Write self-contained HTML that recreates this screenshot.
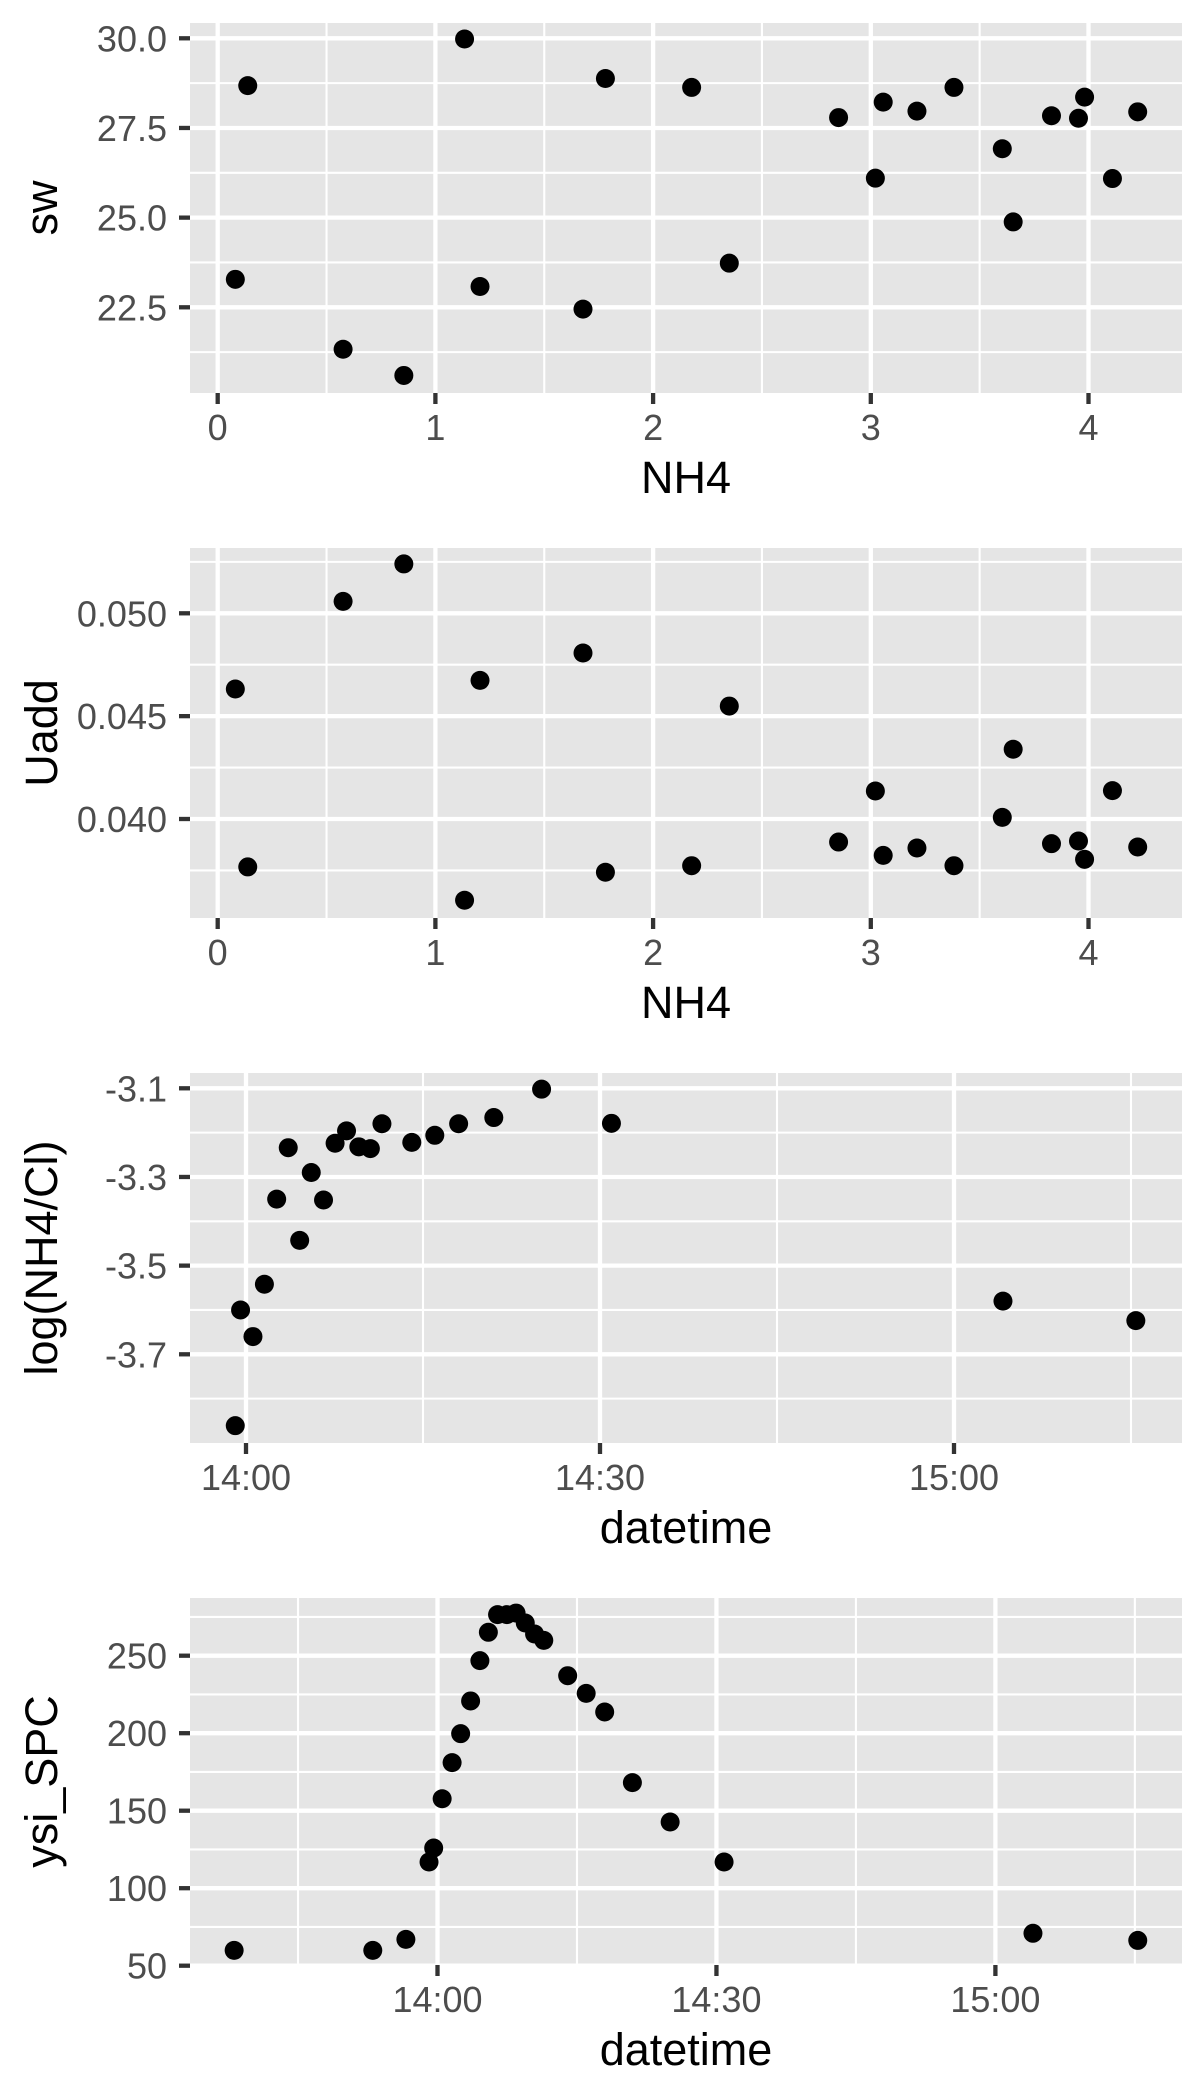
<!DOCTYPE html>
<html><head><meta charset="utf-8"><style>
html,body{margin:0;padding:0;background:#fff;}
svg{display:block;}
text{font-family:"Liberation Sans",sans-serif;}
</style></head><body>
<svg id="chart" width="1200" height="2100" viewBox="0 0 1200 2100" xmlns="http://www.w3.org/2000/svg"></svg>
<script>
// ---- data ----
const nh4 = [0.138,0.081,0.576,0.855,1.134,1.205,1.678,1.781,2.177,2.350,2.852,3.057,3.021,3.212,3.382,3.604,3.654,3.830,3.954,3.982,4.110,4.226];
const sw = [28.68,23.28,21.33,20.60,29.98,23.08,22.45,28.88,28.63,23.73,27.79,28.22,26.10,27.97,28.63,26.92,24.88,27.84,27.77,28.36,26.09,27.95];
const uadd = [0.03767,0.04632,0.05058,0.05240,0.03605,0.04674,0.04807,0.03741,0.03773,0.04549,0.03888,0.03823,0.04136,0.03859,0.03773,0.04008,0.04339,0.03880,0.03893,0.03804,0.04138,0.03864];
// minutes after 14:00
const logTime = [-0.91,-0.46,0.59,1.56,2.60,3.58,4.55,5.53,6.57,7.55,8.52,9.56,10.54,11.52,14.05,16.00,18.02,21.0,25.05,30.97,64.15,75.41];
const logRatio = [-3.861,-3.600,-3.660,-3.542,-3.350,-3.234,-3.443,-3.290,-3.352,-3.224,-3.196,-3.232,-3.236,-3.180,-3.222,-3.206,-3.180,-3.166,-3.102,-3.179,-3.580,-3.624];
const spcTime = [-21.87,-6.96,-3.40,-0.91,-0.41,0.50,1.57,2.49,3.56,4.56,5.47,6.46,7.46,8.45,9.44,10.44,11.43,14.0,15.99,17.98,20.96,25.02,30.82,64.04,75.31];
const spc = [59.9,59.9,67.0,116.9,125.9,157.7,181.0,199.7,220.8,246.8,265.1,276.5,276.5,277.5,271.1,264.0,259.9,237.1,225.7,213.7,168.1,142.7,116.9,70.9,66.3];
const swTicks = [22.5,25.0,27.5,30.0];
const uaddTicks = [0.040,0.045,0.050];
const logTicks = [-3.1,-3.3,-3.5,-3.7];
const spcTicks = [50,100,150,200,250];
const nh4Ticks = [0,1,2,3,4];
const timeTicks = [0,30,60];
const timeLabels = ["14:00","14:30","15:00"];

const NS = "http://www.w3.org/2000/svg";
const svg = document.getElementById('chart');
function mk(tag, attrs, parent){const e=document.createElementNS(NS,tag);for(const k in attrs)e.setAttribute(k,attrs[k]);(parent||svg).appendChild(e);return e;}

const L=190, R=1182;
function panel(cfg){
  const g = mk('g',{});
  
  
  const top=cfg.top, bot=cfg.bot;
  const bg = mk('rect',{x:L,y:top,width:R-L,height:bot-top,fill:'#E5E5E5'},g);
  
  
  const sx=cfg.sx, sy=cfg.sy;
  cfg.yMinor.forEach(v=>{const y=sy(v); if(y>top&&y<bot){const l=mk('line',{x1:L,x2:R,y1:y,y2:y,stroke:'#fff','stroke-width':2.1},g);
    
    }});
  cfg.xMinor.forEach(v=>{const x=sx(v); if(x>L&&x<R){const l=mk('line',{x1:x,x2:x,y1:top,y2:bot,stroke:'#fff','stroke-width':2.1},g);
    
    }});
  cfg.yTicks.forEach((v,i)=>{const y=sy(v);
    const l=mk('line',{x1:L,x2:R,y1:y,y2:y,stroke:'#fff','stroke-width':4.3},g);
    
    
    const t=mk('line',{x1:L-11,x2:L,y1:y,y2:y,stroke:'#333','stroke-width':4.3},g);
    
    
    const tx=mk('text',{x:167,y:y+13,'text-anchor':'end','font-size':36,fill:'#4D4D4D'},g);
    tx.textContent=cfg.yLabels[i];
    
    
  });
  cfg.xTicks.forEach((v,i)=>{const x=sx(v);
    const l=mk('line',{x1:x,x2:x,y1:top,y2:bot,stroke:'#fff','stroke-width':4.3},g);
    
    
    const t=mk('line',{x1:x,x2:x,y1:bot,y2:bot+11,stroke:'#333','stroke-width':4.3},g);
    
    
    const tx=mk('text',{x:x,y:bot+47,'text-anchor':'middle','font-size':36,fill:'#4D4D4D'},g);
    tx.textContent=cfg.xLabels[i];
    
    
  });
  cfg.xs.forEach((xv,i)=>{const c=mk('circle',{cx:sx(xv),cy:sy(cfg.ys[i]),r:9.5,fill:'#000'},g);
    
    });
  const xt=mk('text',{x:(L+R)/2,y:bot+100,'text-anchor':'middle','font-size':45,fill:'#000'},g);
  xt.textContent=cfg.xTitle;
  
  
  const cy=(top+bot)/2;
  const yt=mk('text',{x:57,y:cy,'text-anchor':'middle','font-size':45,fill:'#000',transform:`rotate(-90 57 ${cy})`},g);
  yt.textContent=cfg.yTitle;
  
  
}
function lin(d0,d1,r0,r1){return v=>r0+(v-d0)*(r1-r0)/(d1-d0);}

const xNH4 = lin(0,4,217.7,1088.5);
panel({name:'sw-vs-nh4-panel',top:23,bot:393,sx:xNH4,sy:lin(22.5,30,307.3,38.3),
  yTicks:swTicks,yLabels:swTicks.map(v=>v.toFixed(1)),yMinor:[21.25,23.75,26.25,28.75],
  xTicks:nh4Ticks,xLabels:nh4Ticks.map(String),xMinor:[0.5,1.5,2.5,3.5],
  xs:nh4,ys:sw,xTitle:'NH4',yTitle:'sw'});
panel({name:'uadd-vs-nh4-panel',top:548,bot:918,sx:xNH4,sy:lin(0.040,0.050,819,613.3),
  yTicks:uaddTicks,yLabels:uaddTicks.map(v=>v.toFixed(3)),yMinor:[0.0375,0.0425,0.0475,0.0525],
  xTicks:nh4Ticks,xLabels:nh4Ticks.map(String),xMinor:[0.5,1.5,2.5,3.5],
  xs:nh4,ys:uadd,xTitle:'NH4',yTitle:'Uadd'});
panel({name:'log-ratio-vs-time-panel',top:1073,bot:1443,sx:lin(0,60,246,954),sy:lin(-3.1,-3.7,1088.3,1354.3),
  yTicks:logTicks,yLabels:logTicks.map(v=>v.toFixed(1)),yMinor:[-3.2,-3.4,-3.6,-3.8],
  xTicks:timeTicks,xLabels:timeLabels,xMinor:[15,45,75],
  xs:logTime,ys:logRatio,xTitle:'datetime',yTitle:'log(NH4/Cl)'});
panel({name:'ysi-spc-vs-time-panel',top:1598,bot:1965,sx:lin(0,60,437.5,995.4),sy:lin(50,250,1965.7,1655.7),
  yTicks:spcTicks,yLabels:spcTicks.map(String),yMinor:[75,125,175,225,275],
  xTicks:timeTicks,xLabels:timeLabels,xMinor:[-15,15,45,75],
  xs:spcTime,ys:spc,xTitle:'datetime',yTitle:'ysi_SPC'});
</script>
</body></html>
